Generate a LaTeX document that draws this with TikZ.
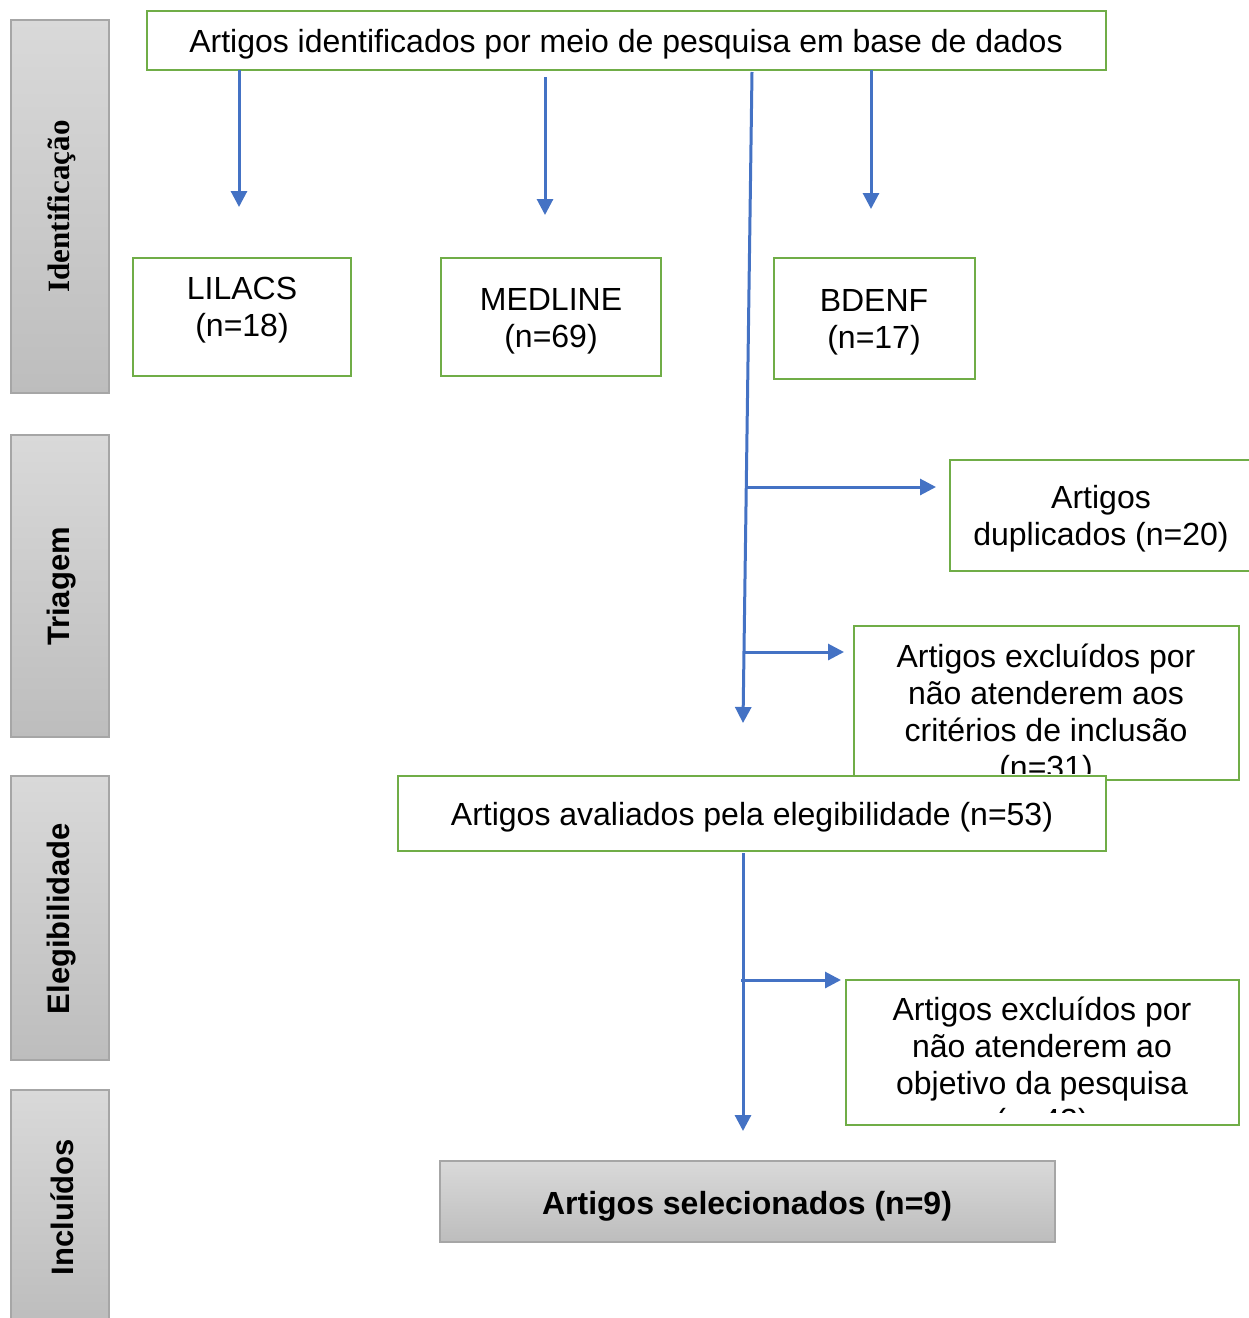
\documentclass[tikz,border=0pt]{standalone}
\usepackage{fontspec}
\setmainfont{Liberation Sans}
\newfontfamily\serifbf{Liberation Serif}
\usetikzlibrary{arrows.meta}
\definecolor{gborder}{HTML}{70AD47}
\definecolor{barrow}{HTML}{4472C4}
\definecolor{gtop}{HTML}{D9D9D9}
\definecolor{gbot}{HTML}{BDBDBD}
\definecolor{gline}{HTML}{A6A6A6}
\begin{document}
\begin{tikzpicture}[x=1pt,y=-1pt,
  gbox/.style={draw=gborder,line width=2.8pt,fill=white,inner sep=0pt},
  sidebar/.style={draw=gline,line width=1.2pt,top color=gtop,bottom color=gbot},
  arr/.style={draw=barrow,line width=3pt,-{Triangle[length=16pt,width=16pt]}},
  txt/.style={font=\fontsize{32}{37}\selectfont,align=center,inner sep=0pt},
  sidetxt/.style={font=\fontsize{31}{36}\selectfont\bfseries,rotate=90,inner sep=0pt},
]
\useasboundingbox (0,0) rectangle (1249,1318);
\fill[white] (0,0) rectangle (1249,1318);

% side bars
\path[sidebar] (11,20) rectangle (109,393);
\path[sidebar] (11,435) rectangle (109,737);
\path[sidebar] (11,776) rectangle (109,1060);
\path[sidebar] (11,1090) rectangle (109,1322);
\node[sidetxt,font=\fontsize{31}{36}\selectfont\serifbf\bfseries] (l1) at (62,206.5) {Identificação};
\node[sidetxt] (l2) at (62,586.5) {Triagem};
\node[sidetxt] (l3) at (62,918.5) {Elegibilidade};
\node[sidetxt] (l4) at (62,1207) {Incluídos};

% top box
\node[gbox,minimum width=959pt,minimum height=59pt] (top) at (626.5,40.5) {};
\node[txt] (toptxt) at (626,44) {Artigos identificados por meio de pesquisa em base de dados};

% database boxes
\node[gbox,minimum width=218pt,minimum height=118pt] (lil) at (242,317) {};
\node[txt] (liltxt) at (242,310) {LILACS\\(n=18)};
\node[gbox,minimum width=220pt,minimum height=118pt] (med) at (551,317) {};
\node[txt] (medtxt) at (551,321) {MEDLINE\\(n=69)};
\node[gbox,minimum width=201pt,minimum height=121pt] (bde) at (874.5,318.5) {};
\node[txt] (bdetxt) at (874,322) {BDENF\\(n=17)};

% duplicados
\node[gbox,minimum width=312pt,minimum height=111pt] (dup) at (1106,515.5) {};
\node[txt] (duptxt) at (1101,519) {Artigos\\duplicados (n=20)};

% excluded 1
\node[gbox,minimum width=385pt,minimum height=154pt] (exa) at (1046.5,703) {};
\begin{scope}
  \clip (850,628) rectangle (1240,773);
  \node[txt] (exatxt) at (1046,714.5) {Artigos excluídos por\\não atenderem aos\\critérios de inclusão\\(n=31)};
\end{scope}

% elegibility
\node[gbox,minimum width=708pt,minimum height=75pt] (ele) at (752,813.5) {};
\node[txt] (eletxt) at (752,817) {Artigos avaliados pela elegibilidade (n=53)};

% excluded 2
\node[gbox,minimum width=393pt,minimum height=145pt] (exb) at (1042.5,1052.5) {};
\begin{scope}
  \clip (846,982) rectangle (1238,1112);
  \node[txt] (exbtxt) at (1042,1068) {Artigos excluídos por\\não atenderem ao\\objetivo da pesquisa\\(n=43)};
\end{scope}

% selected
\path[draw=gline,line width=1.2pt,top color=gtop,bottom color=gbot] (440,1161) rectangle (1055,1242);
\node[inner sep=0pt,minimum width=615pt,minimum height=81pt] (sel) at (747.5,1201.5) {};
\node[txt,font=\fontsize{32}{37}\selectfont\bfseries] (seltxt) at (747,1206) {Artigos selecionados (n=9)};

% connector coordinates
\coordinate (a1s) at (239,70);  \coordinate (a1e) at (239,207);
\coordinate (a2s) at (545,77);  \coordinate (a2e) at (545,215);
\coordinate (a3s) at (871,70);  \coordinate (a3e) at (871,209);
\coordinate (ms) at (752,72);   \coordinate (me) at (743,723);
\coordinate (b1s) at (747,487); \coordinate (b1e) at (936,487);
\coordinate (b2s) at (745,652); \coordinate (b2e) at (844,652);
\coordinate (cs) at (743,853);  \coordinate (ce) at (743,1131);
\coordinate (c1s) at (741,980); \coordinate (c1e) at (841,980);

\draw[arr] (a1s) -- (a1e);
\draw[arr] (a2s) -- (a2e);
\draw[arr] (a3s) -- (a3e);
\draw[arr] (ms) -- (me);
\draw[arr] (b1s) -- (b1e);
\draw[arr] (b2s) -- (b2e);
\draw[arr] (cs) -- (ce);
\draw[arr] (c1s) -- (c1e);
\end{tikzpicture}
\end{document}
